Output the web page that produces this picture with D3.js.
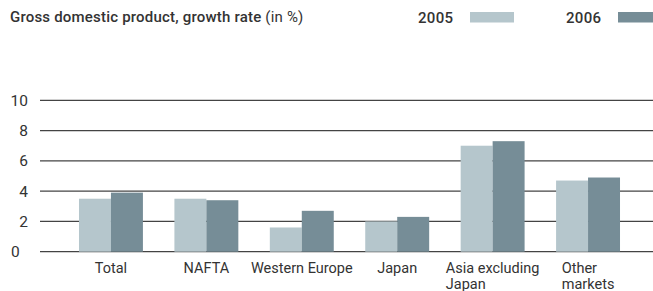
<!DOCTYPE html>
<meta charset="utf-8">
<title>GDP growth rate</title>
<style>
html, body { margin: 0; padding: 0; background: #fff; overflow: hidden; }
text { font-family: Roboto, "Liberation Sans", Arial, sans-serif; fill: #333; }
.title { font-size: 15px; font-weight: 500; letter-spacing: 0.2px; }
.title .unit { font-weight: 400; }
.legend text { font-size: 15px; font-weight: 500; letter-spacing: 0.3px; }
.tick text { font-size: 15.5px; }
.cat { font-size: 14.5px; }
.grid line { stroke: #444; stroke-width: 1.3px; }
</style>
<svg width="653" height="291"></svg>
<script src="https://d3js.org/d3.v7.min.js"></script>
<script>

// data
var categories = ["Total", "NAFTA", "Western Europe", "Japan", "Asia excluding|Japan", "Other|markets"];
var years = ["2005", "2006"];
var values2005 = [3.5, 3.5, 1.6, 2.0, 7.0, 4.7];
var values2006 = [3.9, 3.4, 2.7, 2.3, 7.3, 4.9];
var yTicks = [0, 2, 4, 6, 8, 10];

var colors = { "2005": "#b5c6cc", "2006": "#768d97" };

var svg = d3.select("svg"),
    width = +svg.attr("width");

var rows = categories.map(function(c, i) {
  return { name: c, "2005": values2005[i], "2006": values2006[i] };
});

// scales
var x0 = d3.scaleBand()
    .domain(categories)
    .range([47.5, 651.5])
    .padding(0.33);

var x1 = d3.scaleBand()
    .domain(years)
    .range([0, x0.bandwidth()]);

var y = d3.scaleLinear()
    .domain([0, 10])
    .range([251.7, 100.3]);

// title
var title = svg.append("text")
    .attr("class", "title")
    .attr("x", 10)
    .attr("y", 22);
title.append("tspan").text("Gross domestic product, growth rate ");
title.append("tspan").attr("class", "unit").text("(in %)");

// legend
var legendX = { "2005": 418, "2006": 566 };
var legend = svg.append("g").attr("class", "legend");
years.forEach(function(yr) {
  legend.append("text")
      .attr("x", legendX[yr])
      .attr("y", 22.5)
      .text(yr);
  legend.append("rect")
      .attr("x", legendX[yr] + 52)
      .attr("y", 12)
      .attr("width", 44)
      .attr("height", 10.5)
      .attr("fill", colors[yr]);
});

// gridlines + y labels
var grid = svg.append("g").attr("class", "grid");
grid.selectAll("line")
  .data(yTicks)
  .enter().append("line")
    .attr("x1", 40)
    .attr("x2", width)
    .attr("y1", function(d) { return y(d); })
    .attr("y2", function(d) { return y(d); });

var tickG = svg.append("g").attr("class", "tick");
tickG.selectAll("text")
  .data(yTicks)
  .enter().append("text")
    .attr("x", function(d) { return d === 0 ? 11 : 28; })
    .attr("y", function(d) { return y(d); })
    .attr("dy", "0.36em")
    .attr("text-anchor", function(d) { return d === 0 ? "start" : "end"; })
    .text(function(d) { return d; });

// bars
var groups = svg.append("g").selectAll("g")
  .data(rows)
  .enter().append("g")
    .attr("transform", function(d) { return "translate(" + x0(d.name) + ",0)"; });

groups.selectAll("rect")
  .data(function(d) { return years.map(function(yr) { return { year: yr, value: d[yr] }; }); })
  .enter().append("rect")
    .attr("x", function(d) { return x1(d.year); })
    .attr("y", function(d) { return y(d.value); })
    .attr("width", x1.bandwidth())
    .attr("height", function(d) { return y(0) - y(d.value); })
    .attr("fill", function(d) { return colors[d.year]; });

// category labels: left aligned block, centred under group
categories.forEach(function(c) {
  var lines = c.split("|");
  var t = svg.append("text")
      .attr("class", "cat")
      .attr("y", 273);
  lines.forEach(function(l, i) {
    t.append("tspan")
        .attr("x", 0)
        .attr("dy", i === 0 ? 0 : 16)
        .text(l);
  });
  var w = 0;
  t.selectAll("tspan").each(function() { w = Math.max(w, this.getComputedTextLength()); });
  var cx = x0(c) + x0.bandwidth() / 2;
  t.selectAll("tspan").attr("x", cx - w / 2);
});

</script>
